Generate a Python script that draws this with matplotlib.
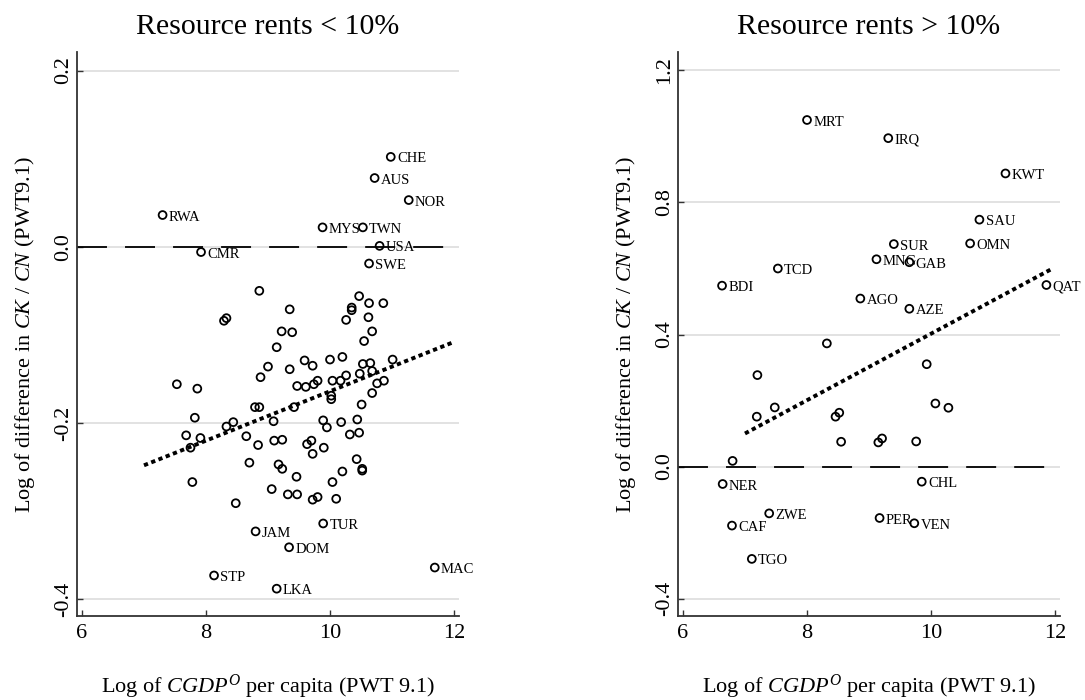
import numpy as np
import matplotlib
matplotlib.use("Agg")
import matplotlib.pyplot as plt

plt.rcParams["font.family"] = ["Liberation Serif", "DejaVu Serif"]
plt.rcParams["mathtext.fontset"] = "custom"
plt.rcParams["mathtext.rm"] = "Liberation Serif"
plt.rcParams["mathtext.it"] = "Liberation Serif:italic"
plt.rcParams["axes.unicode_minus"] = False

# --- left panel: resource rents < 10% ---
low_lab = ["CHE", "AUS", "NOR", "RWA", "MYS", "TWN", "USA", "CMR", "SWE",
           "TUR", "JAM", "DOM", "MAC", "STP", "LKA"]
low_lab_x = [10.98, 10.72, 11.27, 7.30, 9.88, 10.53, 10.80, 7.92, 10.63,
             9.89, 8.80, 9.34, 11.69, 8.13, 9.14]
low_lab_y = [0.102, 0.078, 0.053, 0.036, 0.022, 0.022, 0.001, -0.006, -0.019,
             -0.314, -0.323, -0.341, -0.364, -0.373, -0.388]
low_x = [8.86, 8.29, 8.33, 9.35, 9.22, 9.39, 9.14, 9.00, 8.88, 9.35, 7.53, 7.86,
         9.59, 9.72, 10.00, 10.20, 9.47, 9.61, 9.74, 9.80, 10.04, 10.17, 10.26,
         10.47, 10.63, 10.86, 10.35, 10.35, 10.26, 10.62, 10.68, 10.55, 10.53,
         10.65, 11.01, 10.48, 10.68, 10.76, 10.87, 10.68, 10.51, 10.02, 10.02,
         8.79, 8.86, 9.42, 7.82, 8.44, 8.33, 9.09, 9.89, 10.18, 10.44, 9.95,
         7.68, 7.91, 7.75, 8.65, 8.84, 9.10, 9.23, 9.63, 9.70, 9.72, 9.90,
         10.32, 10.47, 8.70, 9.17, 9.23, 10.43, 10.20, 10.52, 10.52, 7.78,
         9.46, 9.06, 9.32, 9.47, 10.04, 9.72, 9.80, 10.10, 8.48]
low_y = [-0.050, -0.084, -0.081, -0.071, -0.096, -0.097, -0.114, -0.136, -0.148,
         -0.139, -0.156, -0.161, -0.129, -0.135, -0.128, -0.125, -0.158, -0.159,
         -0.156, -0.152, -0.152, -0.152, -0.146, -0.056, -0.064, -0.064, -0.069,
         -0.072, -0.083, -0.080, -0.096, -0.107, -0.133, -0.132, -0.128, -0.144,
         -0.141, -0.155, -0.152, -0.166, -0.179, -0.169, -0.173, -0.182, -0.182,
         -0.182, -0.194, -0.199, -0.204, -0.198, -0.197, -0.199, -0.196, -0.205,
         -0.214, -0.217, -0.228, -0.215, -0.225, -0.220, -0.219, -0.224, -0.220,
         -0.235, -0.228, -0.213, -0.211, -0.245, -0.247, -0.252, -0.241, -0.255,
         -0.252, -0.254, -0.267, -0.261, -0.275, -0.281, -0.281, -0.267, -0.287,
         -0.284, -0.286, -0.291]
low_fit_x = [7.0, 12.0]
low_fit_y = [-0.248, -0.108]
low_yticks = [-0.4, -0.2, 0.0, 0.2]

# --- right panel: resource rents > 10% ---
high_lab = ["MRT", "IRQ", "KWT", "SAU", "SUR", "OMN", "MNG", "GAB", "TCD", "QAT",
            "BDI", "AGO", "AZE", "NER", "CHL", "ZWE", "CAF", "PER", "VEN", "TGO"]
high_lab_x = [8.00, 9.31, 11.20, 10.78, 9.40, 10.63, 9.12, 9.65, 7.53, 11.86,
              6.63, 8.86, 9.65, 6.64, 9.85, 7.39, 6.79, 9.17, 9.73, 7.11]
high_lab_y = [1.050, 0.995, 0.888, 0.748, 0.674, 0.676, 0.628, 0.619, 0.600, 0.550,
              0.548, 0.509, 0.478, -0.053, -0.046, -0.142, -0.179, -0.156, -0.172, -0.280]
high_x = [8.32, 7.20, 9.93, 7.48, 7.19, 8.46, 8.52, 10.07, 10.28, 8.55, 9.15, 9.21,
          9.76, 6.80]
high_y = [0.373, 0.277, 0.310, 0.179, 0.151, 0.151, 0.163, 0.191, 0.178, 0.075,
          0.073, 0.085, 0.076, 0.017]
high_fit_x = [7.0, 11.93]
high_fit_y = [0.100, 0.597]
high_yticks = [-0.4, 0.0, 0.4, 0.8, 1.2]

XTICKS = [6, 8, 10, 12]
SPINE = "#333333"


def panel(ax, lx, ly, labs, ux, uy, fx, fy, yticks, ylim, title):
    ax.set_xlim(5.92, 12.08)
    ax.set_ylim(*ylim)
    ax.yaxis.grid(True, color="#dddddd", lw=1.2)
    ax.set_axisbelow(True)
    for s in ("top", "right"):
        ax.spines[s].set_visible(False)
    for s in ("left", "bottom"):
        ax.spines[s].set_color(SPINE)
        ax.spines[s].set_linewidth(1.3)
    ax.axhline(0, color="black", lw=1.3, linestyle=(0, (16.6, 10)), zorder=2)
    ax.plot(fx, fy, color="black", lw=2.8, linestyle=(0, (1.1, 0.9)),
            dash_capstyle="butt", zorder=3)
    ax.scatter(list(lx) + list(ux), list(ly) + list(uy), s=32, facecolors="none",
               edgecolors="black", linewidths=1.3, zorder=4)
    for t, x, y in zip(labs, lx, ly):
        ax.annotate(t, (x, y), xytext=(4.5, -1.5), textcoords="offset points",
                    ha="left", va="center", fontsize=10.5, annotation_clip=False)
    ax.set_xticks(XTICKS)
    ax.set_yticks(yticks)
    ax.set_yticklabels([f"{v:.1f}" for v in yticks])
    ax.tick_params(axis="both", direction="in", length=4, width=1, color=SPINE,
                   labelsize=16)
    ax.tick_params(axis="y", labelrotation=90, pad=3)
    ax.tick_params(axis="x", pad=6)
    for lab in ax.get_yticklabels():
        lab.set_va("center")
    ax.set_xlabel(r"Log of $\mathit{CGDP}^{\mathit{O}}$ per capita (PWT 9.1)", fontsize=16)
    ax.xaxis.label.set_va("center")
    ax.xaxis.set_label_coords(0.5, -0.126)
    ax.set_ylabel(r"Log of difference in $\mathit{CK}$ / $\mathit{CN}$ (PWT9.1)", fontsize=16)
    ax.yaxis.label.set_va("center")
    ax.yaxis.set_label_coords(-0.136, 0.5)
    ax.set_title(title, fontsize=21.5, pad=13)


fig = plt.figure(figsize=(10.85, 7.0), dpi=100)
ax1 = fig.add_axes([0.0710, 0.12, 0.3520, 0.8057])
ax2 = fig.add_axes([0.6249, 0.12, 0.3521, 0.8057])

panel(ax1, low_lab_x, low_lab_y, low_lab, low_x, low_y, low_fit_x, low_fit_y,
      low_yticks, (-0.419, 0.221), "Resource rents < 10%")
panel(ax2, high_lab_x, high_lab_y, high_lab, high_x, high_y, high_fit_x, high_fit_y,
      high_yticks, (-0.453, 1.256), "Resource rents > 10%")

fig.savefig("out.png", dpi=100)
